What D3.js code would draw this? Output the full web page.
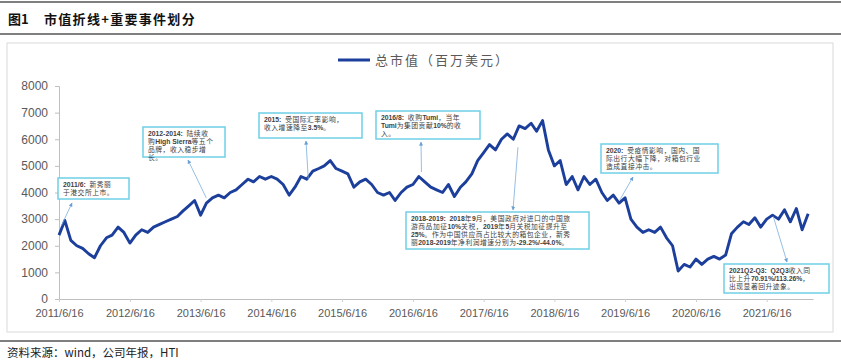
<!DOCTYPE html>
<html>
<head>
<meta charset="utf-8">
<script src="https://cdn.jsdelivr.net/npm/d3@7"></script>
<style>
  body { margin: 0; background: #fff; }
  svg { display: block; }
</style>
</head>
<body>
<svg id="chart" width="841" height="364"></svg>
<script>
const width = 841;
const height = 364;

// monthly market cap (USD m), first point 2011/6/16
const startDate = "2011-06-16";
const capValues = [
  2400, 2950, 2200, 2000, 1900, 1700, 1550, 2000, 2300, 2400, 2700, 2500,
  2100, 2400, 2600, 2500, 2700, 2800, 2900, 3000, 3100, 3300, 3500, 3700,
  3150, 3600, 3800, 3900, 3800, 4000, 4100, 4300, 4500, 4400, 4600, 4500,
  4600, 4500, 4300, 3900, 4200, 4600, 4500, 4800, 4900, 5000, 5200, 4900,
  4800, 4700, 4200, 4400, 4500, 4300, 4000, 3900, 4000, 3700, 4000, 4200,
  4300, 4600, 4400, 4200, 4100, 4000, 4300, 3850, 4200, 4400, 4700, 5200,
  5500, 5800, 5600, 6000, 6200, 6000, 6500, 6400, 6600, 6300, 6700, 5600,
  5000, 5200, 4300, 4600, 4100, 4600, 4300, 4500, 4000, 3700, 3900, 3600,
  3800, 3000, 2700, 2500, 2600, 2500, 2700, 2300, 2000, 1050, 1300, 1200,
  1500, 1300, 1500, 1600, 1500, 1650, 2450, 2700, 2900, 2800, 3050, 2700,
  3000, 3150, 3000, 3350, 2900, 3400, 2600, 3200
];

const yTicks = [0, 1000, 2000, 3000, 4000, 5000, 6000, 7000, 8000];
const xTickLabels = ["2011/6/16", "2012/6/16", "2013/6/16", "2014/6/16", "2015/6/16",
  "2016/6/16", "2017/6/16", "2018/6/16", "2019/6/16", "2020/6/16", "2021/6/16"];

// event notes: text lines, box (px), arrow tip at the box, arrow start on the series
const notes = [
  { lines: ["2011/6:  新秀丽", "于港交所上市。"],
    box: [58, 178, 71, 21], tip: [72, 203], at: ["2011-06-28", 2750] },
  { lines: ["2012-2014:  陆续收", "购High Sierra等五个", "品牌，收入稳步增", "长。"],
    box: [143, 127, 82, 30], tip: [188, 160], at: ["2013-07-15", 3800] },
  { lines: ["2015:  受国际汇率影响，", "收入增速降至3.5%。"],
    box: [259, 113, 103, 25], tip: [306, 141], at: ["2014-12-24", 4470] },
  { lines: ["2016/8:  收购Tumi，当年", "Tumi为集团贡献10%的收", "入。"],
    box: [376, 111, 104, 28], tip: [421, 142], at: ["2016-07-30", 4770] },
  { lines: ["2018-2019:  2018年9月，美国政府对进口的中国旅",
            "游商品加征10%关税，2019年5月关税加征提升至",
            "25%。作为中国供应商占比较大的箱包企业，新秀",
            "丽2018-2019年净利润增速分别为-29.2%/-44.0%。"],
    box: [406, 212, 183, 37], tip: [513, 210], at: ["2017-12-10", 5700] },
  { lines: ["2020:  受疫情影响，国内、国", "际出行大幅下降，对箱包行业", "造成直接冲击。"],
    box: [601, 144, 117, 29], tip: [633, 177], at: ["2019-05-20", 3720] },
  { lines: ["2021Q2-Q3:  Q2Q3收入同", "比上升70.91%/113.26%，", "出现显著回升迹象。"],
    box: [724, 264, 105, 29], tip: [787, 262], at: ["2021-07-20", 3100] }
];

const parse = d3.timeParse("%Y-%m-%d");
const t0 = parse(startDate);
const series = capValues.map((v, i) => ({ date: d3.timeMonth.offset(t0, i), value: v }));

const svg = d3.select("#chart");
const font = "'Liberation Sans', Arial, sans-serif";
const cjk = "'Noto Sans CJK SC', sans-serif";

// header + footer rules
[2, 34, 341].forEach(yy => {
  svg.append("line").attr("x1", 0).attr("x2", width).attr("y1", yy).attr("y2", yy)
    .attr("stroke", "#555").attr("stroke-width", 1.5);
});

svg.append("text").attr("x", 8).attr("y", 24)
  .attr("font-family", cjk).attr("font-size", 13).attr("font-weight", "bold").attr("fill", "#111")
  .text("图1");
svg.append("text").attr("x", 44).attr("y", 24)
  .attr("font-family", cjk).attr("font-size", 13).attr("font-weight", "bold").attr("fill", "#111")
  .attr("letter-spacing", 1.3)
  .text("市值折线+重要事件划分");

svg.append("text").attr("x", 7).attr("y", 357)
  .attr("font-family", cjk).attr("font-size", 11.5).attr("fill", "#222")
  .text("资料来源：wind，公司年报，HTI");

// chart frame
svg.append("rect").attr("x", 7).attr("y", 43).attr("width", 826).attr("height", 289)
  .attr("fill", "none").attr("stroke", "#d9d9d9").attr("stroke-width", 1);

const x = d3.scaleTime()
  .domain([parse("2011-06-16"), parse("2022-02-10")])
  .range([59, 813]);
const y = d3.scaleLinear().domain([0, 8000]).range([299, 86]);

// y axis
const yAxis = svg.append("g").attr("transform", "translate(59,0)")
  .call(d3.axisLeft(y).tickValues(yTicks).tickSize(4).tickPadding(7).tickFormat(d3.format("d")));
yAxis.select(".domain").attr("stroke", "#bfbfbf");
yAxis.selectAll(".tick line").attr("stroke", "#bfbfbf");
yAxis.selectAll("text").attr("font-family", font).attr("font-size", 12).attr("fill", "#595959");

// x axis
const xTicks = xTickLabels.map(s => d3.timeParse("%Y/%m/%d")(s));
const xAxis = svg.append("g").attr("transform", "translate(0,299)")
  .call(d3.axisBottom(x).tickValues(xTicks).tickSize(3).tickSizeOuter(0).tickPadding(7)
    .tickFormat((d, i) => xTickLabels[i]));
xAxis.select(".domain").attr("stroke", "#bfbfbf");
xAxis.selectAll(".tick line").attr("stroke", "#d0d0d0");
xAxis.selectAll("text").attr("font-family", font).attr("font-size", 11).attr("fill", "#595959");

// legend
svg.append("line").attr("x1", 338).attr("x2", 370).attr("y1", 60).attr("y2", 60)
  .attr("stroke", "#1c3f9c").attr("stroke-width", 3);
svg.append("text").attr("x", 375).attr("y", 65)
  .attr("font-family", cjk).attr("font-size", 13).attr("letter-spacing", 2).attr("fill", "#595959")
  .text("总市值（百万美元）");

// series line
const line = d3.line().x(d => x(d.date)).y(d => y(d.value));
svg.append("path").datum(series)
  .attr("fill", "none").attr("stroke", "#1c3f9c").attr("stroke-width", 2.9)
  .attr("stroke-linejoin", "round").attr("d", line);

// arrow marker
svg.append("defs").append("marker")
  .attr("id", "arr").attr("viewBox", "0 0 10 10").attr("refX", 9).attr("refY", 5)
  .attr("markerWidth", 5).attr("markerHeight", 5).attr("orient", "auto")
  .append("path").attr("d", "M0,0L10,5L0,10z").attr("fill", "#6a9fd4");

// event notes: one text block per note, latin runs bold sans, chinese runs in cjk font
notes.forEach(n => {
  svg.append("line")
    .attr("x1", x(parse(n.at[0]))).attr("y1", y(n.at[1]))
    .attr("x2", n.tip[0]).attr("y2", n.tip[1])
    .attr("stroke", "#7aaede").attr("stroke-width", 0.8)
    .attr("marker-end", "url(#arr)");

  svg.append("rect").attr("x", n.box[0]).attr("y", n.box[1])
    .attr("width", n.box[2]).attr("height", n.box[3])
    .attr("fill", "#fff").attr("stroke", "#6fd0e6").attr("stroke-width", 1.5);

  const t = svg.append("text")
    .attr("font-size", 6.8).attr("fill", "#404040").attr("xml:space", "preserve");
  n.lines.forEach((ln, i) => {
    ln.split(/([\x00-\x7F]+)/).filter(s => s.length).forEach((seg, j) => {
      const latin = /^[\x00-\x7F]+$/.test(seg);
      const sp = t.append("tspan")
        .attr("font-family", latin ? font : cjk)
        .attr("font-weight", latin ? "bold" : "normal")
        .attr("letter-spacing", latin ? 0 : 0.5)
        .text(seg);
      if (j === 0) sp.attr("x", n.box[0] + 5).attr("y", n.box[1] + 9 + i * 8);
    });
  });
});
</script>
</body>
</html>
